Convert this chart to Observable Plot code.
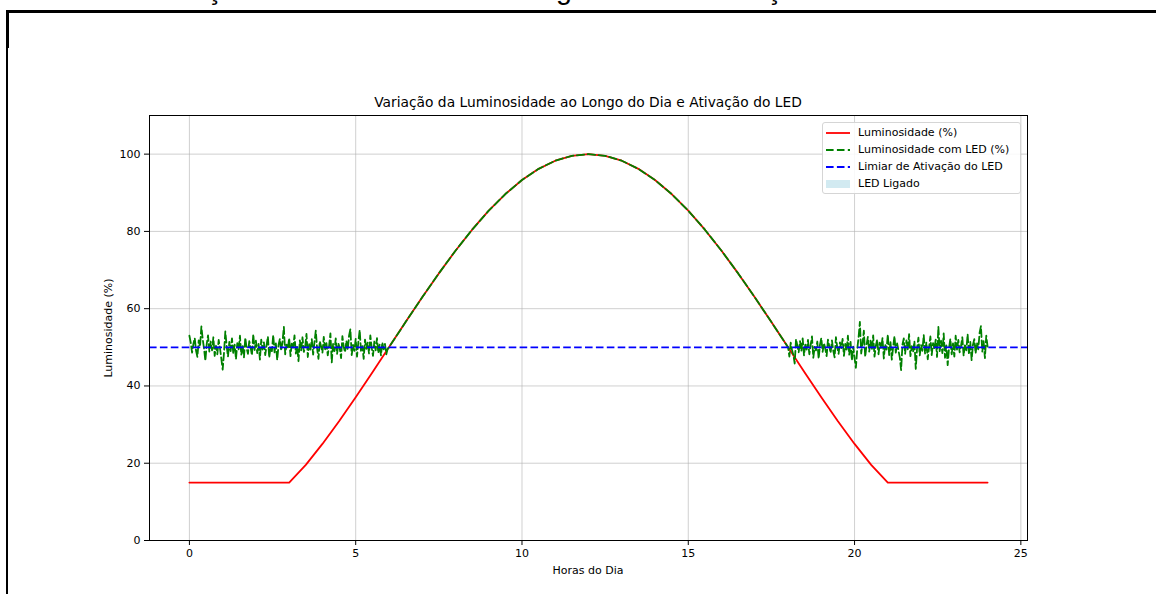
<!DOCTYPE html>
<html>
<head>
<meta charset="utf-8">
<script src="https://cdn.jsdelivr.net/npm/d3@7"></script>
<script src="https://cdn.jsdelivr.net/npm/@observablehq/plot@0.6"></script>
<style>
  html, body { margin: 0; padding: 0; background: #fff; }
  body { width: 1156px; height: 594px; position: relative; overflow: hidden; font-family: "DejaVu Sans", sans-serif; color: #000; }
  #chart { position: absolute; left: 0; top: 0; }
  .abs { position: absolute; white-space: nowrap; }
  #doc-title-clip { position: absolute; left: 0; top: 0; width: 1156px; height: 10px; overflow: hidden; z-index: 3; }
  #doc-title { position: absolute; left: 0; top: -17px; font-family: "Liberation Sans", sans-serif; font-size: 24px; line-height: 24px; color: #000; white-space: nowrap; }
  .border { position: absolute; background: #000; z-index: 4; }
  #title { font-size: 13.8px; }
  .axlabel { font-size: 11px; }
  #legend { position: absolute; left: 822px; top: 122px; width: 197px; height: 70px; border: 1px solid #d5d5d5; border-radius: 3px; background: rgba(255,255,255,0.85); z-index: 2; font-size: 11px; }
  .lrow { position: absolute; left: 0; height: 16px; width: 197px; }
  .lrow svg { position: absolute; left: 3px; top: 3px; }
  .lrow span { position: absolute; left: 35px; top: 0; line-height: 16px; }
</style>
</head>
<body>
<div id="doc-title-clip"><div id="doc-title">Gráfico 3 - Variação da luminosidade ao longo do dia e ativação do LED</div></div>
<div class="border" style="left:6px; top:10px; width:1150px; height:3px;"></div>
<div class="border" style="left:6px; top:10px; width:3px; height:38px;"></div>
<div class="border" style="left:6px; top:47px; width:1.5px; height:547px;"></div>
<div id="chart"></div>
<div id="legend"></div>
<script>
// ---- Data ----
const xTicks = [0, 5, 10, 15, 20, 25];
const yTicks = [0, 20, 40, 60, 80, 100];
const threshold = 50;

// Luminosity (%) sampled every half hour
const lumHours = [0, 0.5, 1, 1.5, 2, 2.5, 3, 3.5, 4, 4.5, 5, 5.5, 6, 6.5, 7, 7.5, 8, 8.5, 9, 9.5, 10, 10.5, 11, 11.5, 12,
  12.5, 13, 13.5, 14, 14.5, 15, 15.5, 16, 16.5, 17, 17.5, 18, 18.5, 19, 19.5, 20, 20.5, 21, 21.5, 22, 22.5, 23, 23.5, 24];
const lumValues = [15, 15, 15, 15, 15, 15, 15, 19.56, 25, 30.87, 37.06, 43.47, 50, 56.53, 62.94, 69.13, 75, 80.44, 85.36, 89.67,
  93.30, 96.19, 98.30, 99.57, 100, 99.57, 98.30, 96.19, 93.30, 89.67, 85.36, 80.44, 75, 69.13, 62.94, 56.53, 50, 43.47, 37.06,
  30.87, 25, 19.56, 15, 15, 15, 15, 15, 15, 15];

// Luminosity with LED (%) where the LED is on: readings every 0.04 h
const noiseStep = 0.04;
const morningStart = 0;
const ledMorning = [
  53.0, 51.2, 48.6, 50.9, 52.4, 49.1, 47.5, 51.8, 50.2, 55.4,
  52.1, 49.6, 46.5, 50.8, 53.1, 48.9, 51.5, 49.2, 52.6, 47.8,
  50.4, 48.2, 51.9, 49.7, 47.1, 44.2, 48.6, 54.1, 50.3, 47.6,
  51.4, 49.0, 52.3, 48.4, 50.7, 46.9, 51.1, 49.5, 53.0, 48.1,
  50.6, 47.4, 52.5, 49.8, 48.3, 51.6, 50.0, 47.9, 53.4, 49.3,
  51.7, 48.5, 50.9, 46.8, 52.0, 49.4, 51.3, 48.0, 50.5, 52.8,
  47.3, 50.1, 49.0, 53.2, 48.7, 51.0, 46.7, 50.6, 52.2, 49.1,
  51.5, 55.3, 48.2, 50.7, 49.6, 52.4, 47.7, 51.2, 49.9, 53.1,
  48.4, 50.3, 46.4, 51.8, 49.2, 52.6, 48.8, 50.0, 53.5, 47.5,
  50.8, 49.4, 52.1, 48.1, 51.3, 54.3, 49.7, 47.0, 51.6, 50.2,
  48.6, 52.7, 49.5, 51.1, 47.9, 50.4, 53.6, 46.1, 50.9, 49.0,
  52.3, 48.3, 51.0, 49.8, 47.2, 52.9, 50.1, 48.7, 51.7, 49.3,
  53.0, 54.7, 48.0, 50.6, 49.1, 52.2, 47.6, 51.4, 54.5, 48.9,
  50.3, 47.0, 52.0, 49.6, 51.2, 48.4, 53.1, 50.0, 47.8, 51.5,
  49.2, 52.4, 48.5, 50.7, 47.9, 51.3, 49.5, 50.9, 48.2, 49.6
];
const eveningStart = 18.04;
const ledEvening = [
  47.6, 51.2, 49.3, 48.0, 45.8, 52.1, 50.4, 48.7, 51.6, 49.0,
  52.3, 47.9, 50.8, 49.4, 51.9, 48.2, 50.6, 52.8, 47.3, 50.1,
  49.2, 51.5, 47.0, 50.7, 52.4, 48.8, 51.1, 49.6, 47.7, 52.0,
  50.3, 48.5, 51.8, 49.1, 47.4, 52.6, 50.0, 48.3, 51.3, 49.8,
  52.2, 47.8, 50.9, 49.0, 53.0, 48.1, 51.4, 46.6, 50.2, 47.2,
  44.7, 49.5, 52.5, 56.6, 48.4, 51.0, 54.3, 47.5, 50.6, 52.7,
  48.9, 51.7, 49.3, 53.1, 47.6, 50.4, 52.0, 48.2, 51.2, 49.7,
  52.4, 47.1, 50.8, 49.4, 53.3, 48.0, 51.5, 46.8, 50.1, 52.9,
  48.6, 51.0, 49.2, 47.4, 44.1, 50.7, 52.3, 48.3, 51.8, 49.5,
  53.4, 47.7, 50.3, 48.8, 51.6, 44.4, 49.9, 52.5, 47.9, 50.6,
  49.1, 53.2, 48.4, 51.3, 46.9, 50.0, 52.8, 48.0, 51.1, 49.6,
  52.0, 47.5, 55.3, 49.0, 51.7, 48.5, 53.6, 47.3, 50.5, 45.4,
  49.8, 52.2, 48.2, 51.0, 47.6, 53.0, 49.4, 51.9, 48.7, 50.3,
  52.6, 47.8, 50.9, 49.2, 53.4, 48.1, 51.4, 46.7, 50.7, 52.1,
  48.4, 51.2, 49.5, 53.8, 55.5, 48.9, 51.6, 47.2, 53.0, 50.2
];

const seriesNames = ["Luminosidade (%)", "Luminosidade com LED (%)", "Limiar de Ativação do LED", "LED Ligado"];

// ---- Build tables ----
const lumData = lumHours.map((t, i) => ({t, v: lumValues[i]}));
const ledData = [
  ...ledMorning.map((v, i) => ({t: +(morningStart + i * noiseStep).toFixed(2), v})),
  ...lumData.filter(d => d.t >= 6 && d.t <= 18),
  ...ledEvening.map((v, i) => ({t: +(eveningStart + i * noiseStep).toFixed(2), v}))
];

const dash = "7.6,3.3";
const chart = Plot.plot({
  width: 1156,
  height: 594,
  marginLeft: 149,
  marginRight: 129,
  marginTop: 115,
  marginBottom: 54,
  style: {background: "transparent", fontFamily: "DejaVu Sans, sans-serif", fontSize: "11px", color: "#000"},
  x: {domain: [-1.2, 25.2]},
  y: {domain: [0, 110]},
  marks: [
    Plot.gridX(xTicks, {stroke: "#b0b0b0", strokeOpacity: 0.6, strokeWidth: 1}),
    Plot.gridY(yTicks, {stroke: "#b0b0b0", strokeOpacity: 0.6, strokeWidth: 1}),
    Plot.line(lumData, {x: "t", y: "v", stroke: "red", strokeWidth: 1.8}),
    Plot.line(ledData, {x: "t", y: "v", stroke: "green", strokeWidth: 1.8, strokeDasharray: dash}),
    Plot.ruleY([threshold], {stroke: "blue", strokeWidth: 1.8, strokeDasharray: dash}),
    Plot.frame({stroke: "#000", strokeWidth: 1}),
    Plot.axisX(xTicks, {tickSize: 5, tickPadding: 4, label: null, fontSize: 11}),
    Plot.axisY(yTicks, {tickSize: 5, tickPadding: 4, label: null, fontSize: 11})
  ]
});
document.getElementById("chart").appendChild(chart);

// Document caption above the figure (cropped at the top, as in the reference): fit its width
const dt = document.getElementById("doc-title");
const w0 = dt.getBoundingClientRect().width;
if (w0 > 0) {
  const f = 24 * 917 / w0;
  dt.style.fontSize = f + "px";
  dt.style.lineHeight = f + "px";
  dt.style.top = (-0.5 - 0.8465 * f) + "px";
}

// Titles and axis labels
function addText(id, cls, txt, x, y, rotate) {
  const d = document.createElement("div");
  d.className = "abs " + cls;
  if (id) d.id = id;
  d.textContent = txt;
  d.style.left = x + "px";
  d.style.top = y + "px";
  d.style.transform = "translate(-50%,-50%)" + (rotate ? " rotate(-90deg)" : "");
  document.body.appendChild(d);
}
addText("title", "", "Variação da Luminosidade ao Longo do Dia e Ativação do LED", 588, 102);
addText(null, "axlabel", "Horas do Dia", 588, 570);
addText(null, "axlabel", "Luminosidade (%)", 108, 328, true);

// Legend
const legend = document.getElementById("legend");
const samples = [
  `<line x1="0" y1="5" x2="24" y2="5" stroke="red" stroke-width="1.8"/>`,
  `<line x1="0" y1="5" x2="24" y2="5" stroke="green" stroke-width="1.8" stroke-dasharray="${dash}"/>`,
  `<line x1="0" y1="5" x2="24" y2="5" stroke="blue" stroke-width="1.8" stroke-dasharray="${dash}"/>`,
  `<rect x="0" y="1" width="24" height="8" fill="#add8e6" fill-opacity="0.55"/>`
];
const rowTops = [2, 19, 35.5, 52.5];
seriesNames.forEach((name, i) => {
  const r = document.createElement("div");
  r.className = "lrow";
  r.style.top = rowTops[i] + "px";
  r.innerHTML = `<svg width="26" height="10">${samples[i]}</svg><span>${name}</span>`;
  legend.appendChild(r);
});
</script>
</body>
</html>
